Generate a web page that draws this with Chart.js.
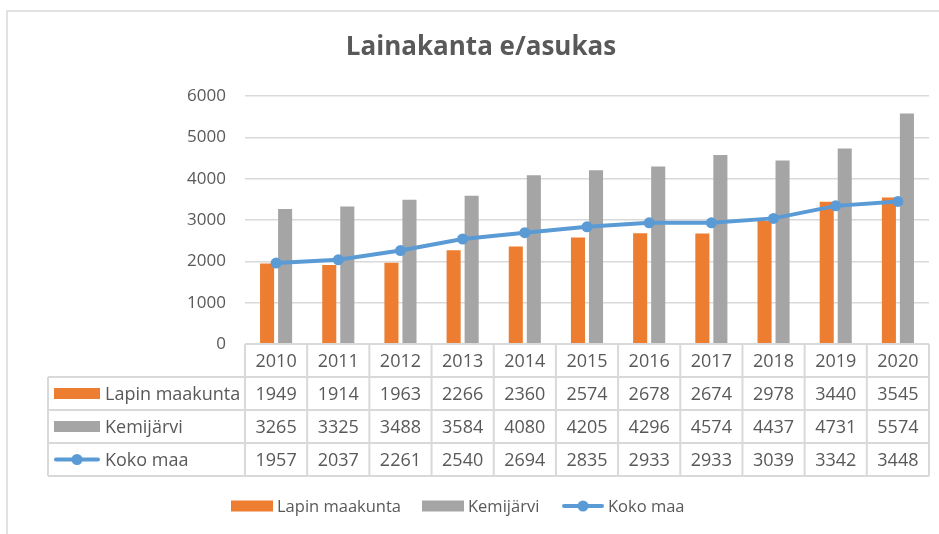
<!DOCTYPE html>
<html>
<head>
<meta charset="utf-8">
<script src="https://cdn.jsdelivr.net/npm/chart.js@4.4.1/dist/chart.umd.min.js"></script>
<style>
  body { margin: 0; background: #fff; }
  canvas { display: block; }
</style>
</head>
<body>
<canvas id="chart-area" width="939" height="534"></canvas>
<script>
// vuodet ja sarjat
var years = ["2010", "2011", "2012", "2013", "2014", "2015", "2016", "2017", "2018", "2019", "2020"];
var lappi = [1949, 1914, 1963, 2266, 2360, 2574, 2678, 2674, 2978, 3440, 3545];
var kemijarvi = [3265, 3325, 3488, 3584, 4080, 4205, 4296, 4574, 4437, 4731, 5574];
var kokoMaa = [1957, 2037, 2261, 2540, 2694, 2835, 2933, 2933, 3039, 3342, 3448];
var yTicks = [0, 1000, 2000, 3000, 4000, 5000, 6000];

var textColor = '#595959';
var lineGray = '#d9d9d9';
var fontName = '"Open Sans", sans-serif';

// legendan tunnus: palkki tai viiva+pallo
function drawKey(ctx, ds, x, y, w) {
  ctx.save();
  if (ds.type === 'line') {
    ctx.strokeStyle = ds.borderColor;
    ctx.lineWidth = 4;
    ctx.lineCap = 'round';
    ctx.beginPath();
    ctx.moveTo(x + 2, y);
    ctx.lineTo(x + w - 2, y);
    ctx.stroke();
    ctx.fillStyle = ds.borderColor;
    ctx.beginPath();
    ctx.arc(x + w / 2, y, 5.5, 0, Math.PI * 2);
    ctx.fill();
  } else {
    ctx.fillStyle = ds.backgroundColor;
    ctx.fillRect(x, y - 5.5, w, 11);
  }
  ctx.restore();
}

// otsikko, kehys, taulukko ja legenda piirretään itse
var extras = {
  id: 'extras',
  afterDraw: function(chart) {
    var ctx = chart.ctx;
    var area = chart.chartArea;
    var xs = chart.scales.x;
    var sets = chart.data.datasets;
    var colW = xs.getPixelForValue(1) - xs.getPixelForValue(0);
    var rowH = 33;
    var tableLeft = 48;
    var top = area.bottom;

    ctx.save();
    // kehys
    ctx.strokeStyle = lineGray;
    ctx.lineWidth = 1.5;
    ctx.beginPath();
    ctx.moveTo(7, 534);
    ctx.lineTo(7, 11);
    ctx.lineTo(939, 11);
    ctx.stroke();

    // otsikko
    ctx.fillStyle = textColor;
    ctx.font = 'bold 26px ' + fontName;
    ctx.textAlign = 'center';
    ctx.textBaseline = 'middle';
    ctx.fillText('Lainakanta e/asukas', 481, 48);

    // taulukon viivat
    ctx.strokeStyle = lineGray;
    ctx.lineWidth = 2;
    ctx.beginPath();
    for (var r = 0; r <= 4; r++) {
      var yy = top + r * rowH;
      ctx.moveTo(r === 0 ? area.left : tableLeft, yy);
      ctx.lineTo(area.right, yy);
    }
    ctx.moveTo(tableLeft, top + rowH);
    ctx.lineTo(tableLeft, top + 4 * rowH);
    for (var c = 0; c <= years.length; c++) {
      var xx = area.left + c * colW;
      ctx.moveTo(xx, top);
      ctx.lineTo(xx, top + 4 * rowH);
    }
    ctx.stroke();

    // taulukon tekstit
    ctx.fillStyle = textColor;
    ctx.font = '18px ' + fontName;
    ctx.textAlign = 'center';
    for (var i = 0; i < years.length; i++) {
      var cx = xs.getPixelForValue(i);
      ctx.fillText(years[i], cx, top + rowH / 2 + 1);
      for (var k = 0; k < sets.length; k++) {
        ctx.fillText(String(sets[k].data[i]), cx, top + rowH * (k + 1.5) + 1);
      }
    }
    ctx.textAlign = 'left';
    for (var k2 = 0; k2 < sets.length; k2++) {
      var ry = top + rowH * (k2 + 1.5);
      drawKey(ctx, sets[k2], 54, ry, 46);
      ctx.fillStyle = textColor;
      ctx.fillText(sets[k2].label, 105, ry + 1);
    }

    // alalegenda
    ctx.font = '16.5px ' + fontName;
    var legY = 506;
    var lx = [231, 422, 562];
    for (var m = 0; m < sets.length; m++) {
      drawKey(ctx, sets[m], lx[m], legY, 42);
      ctx.fillStyle = textColor;
      ctx.fillText(sets[m].label, lx[m] + 46, legY + 1);
    }
    ctx.restore();
  }
};

var ctx = document.getElementById("chart-area");
var myChart = new Chart(ctx, {
  type: "bar",
  data: {
    labels: years,
    datasets: [
      {
        label: "Lapin maakunta",
        data: lappi,
        backgroundColor: '#ED7D31',
        categoryPercentage: 0.58,
        barPercentage: 0.78,
        order: 2
      },
      {
        label: "Kemijärvi",
        data: kemijarvi,
        backgroundColor: '#A5A5A5',
        categoryPercentage: 0.58,
        barPercentage: 0.78,
        order: 2
      },
      {
        type: "line",
        label: "Koko maa",
        data: kokoMaa,
        borderColor: '#5B9BD5',
        backgroundColor: '#5B9BD5',
        borderWidth: 4,
        pointRadius: 5.5,
        pointBackgroundColor: '#5B9BD5',
        pointBorderWidth: 0,
        tension: 0,
        order: 1
      }
    ]
  },
  options: {
    responsive: false,
    animation: false,
    layout: {
      padding: { left: 0, right: 10, top: 96, bottom: 190 }
    },
    plugins: {
      legend: { display: false },
      title: { display: false },
      tooltip: { enabled: false }
    },
    scales: {
      x: {
        display: false
      },
      y: {
        min: 0,
        max: 6000,
        afterFit: function(scale) { scale.width = 245; },
        afterBuildTicks: function(scale) {
          scale.ticks = yTicks.map(function(v) { return { value: v }; });
        },
        border: { display: false },
        grid: { color: lineGray, lineWidth: 1.5, drawTicks: false },
        ticks: {
          padding: 19,
          color: textColor,
          font: { family: 'Open Sans', size: 17 },
          callback: function(value) { return String(value); }
        }
      }
    }
  },
  plugins: [extras]
});
</script>
</body>
</html>
